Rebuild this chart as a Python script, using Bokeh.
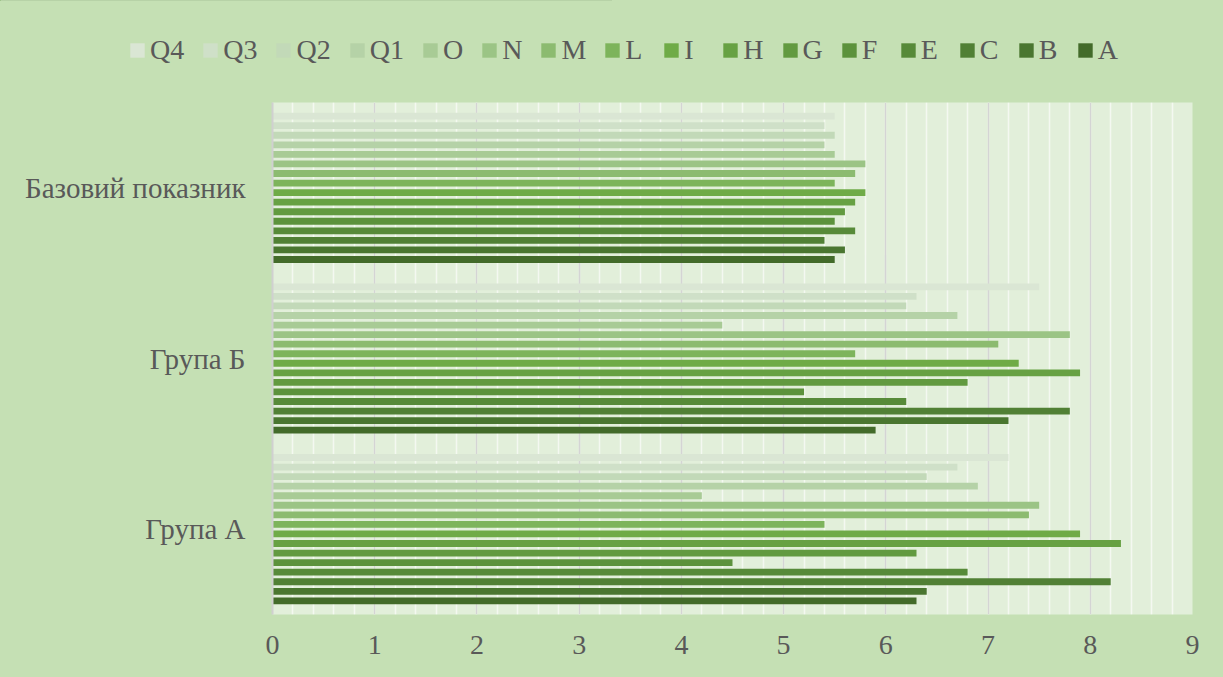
from bokeh.plotting import figure
from bokeh.layouts import column
from bokeh.models import Range1d, FactorRange, Legend, LegendItem, SingleIntervalTicker
from bokeh.transform import dodge
from bokeh.embed import file_html
from bokeh.resources import INLINE

# ---- data ----
groups = ["Група А", "Група Б", "Базовий показник"]
series = ["A", "B", "C", "E", "F", "G", "H", "I", "L", "M", "N", "O", "Q1", "Q2", "Q3", "Q4"]

A = [6.3, 5.9, 5.5]
B = [6.4, 7.2, 5.6]
C = [8.2, 7.8, 5.4]
E = [6.8, 6.2, 5.7]
F = [4.5, 5.2, 5.5]
G = [6.3, 6.8, 5.6]
H = [8.3, 7.9, 5.7]
I = [7.9, 7.3, 5.8]
L = [5.4, 5.7, 5.5]
M = [7.4, 7.1, 5.7]
N = [7.5, 7.8, 5.8]
O = [4.2, 4.4, 5.5]
Q1 = [6.9, 6.7, 5.4]
Q2 = [6.4, 6.2, 5.5]
Q3 = [6.7, 6.3, 5.4]
Q4 = [7.2, 7.5, 5.5]

colors = ["#436b2a", "#4a7630", "#518035", "#578a39", "#5c923c", "#629a40",
          "#67a143", "#6fab47", "#7db45b", "#8cbb70", "#9bc485", "#a8cb95",
          "#b5d2a7", "#c2d9b8", "#cfe0c8", "#dae6d4"]

data = {"group": groups, "A": A, "B": B, "C": C, "E": E, "F": F, "G": G, "H": H,
        "I": I, "L": L, "M": M, "N": N, "O": O, "Q1": Q1, "Q2": Q2, "Q3": Q3, "Q4": Q4}

FONT = "Liberation Serif"
TXT = "#595959"
OUTER = "#c5e0b4"
W = 1223

# ---- main chart ----
p = figure(width=W, height=575, output_backend="svg", toolbar_location=None,
           y_range=FactorRange(factors=groups, range_padding=0),
           x_range=Range1d(0, 9),
           min_border_left=272, min_border_right=31, min_border_top=0, min_border_bottom=63)
p.frame_align = False
p.background_fill_color = "#e2efda"
p.border_fill_color = OUTER
p.outline_line_color = None

slot = 0.056
bar_h = 0.04
renderers = []
for i, s in enumerate(series):
    off = (i - (len(series) - 1) / 2) * slot
    r = p.hbar(y=dodge("group", off, range=p.y_range), left=0, right=s, height=bar_h,
               source=data, fill_color=colors[i], line_color=None)
    renderers.append(r)

p.xaxis.ticker = SingleIntervalTicker(interval=1, num_minor_ticks=5)
p.xaxis.axis_line_color = None
p.xaxis.major_tick_line_color = None
p.xaxis.minor_tick_line_color = None
p.xaxis.major_label_standoff = 15
p.xaxis.major_label_text_font = FONT
p.xaxis.major_label_text_font_size = "28px"
p.xaxis.major_label_text_color = TXT

p.yaxis.axis_line_color = "#d0d0d0"
p.yaxis.axis_line_width = 2
p.yaxis.major_tick_line_color = None
p.yaxis.minor_tick_line_color = None
p.yaxis.major_label_standoff = 21
p.yaxis.major_label_text_font = FONT
p.yaxis.major_label_text_font_size = "29px"
p.yaxis.major_label_text_color = TXT

p.xgrid.grid_line_color = "#d4d4d4"
p.xgrid.grid_line_width = 1.5
p.xgrid.minor_grid_line_color = "#f4f8f1"
p.xgrid.minor_grid_line_width = 1.5
p.ygrid.grid_line_color = None

# ---- legend strip on top ----
lg = figure(width=W, height=102, output_backend="svg", toolbar_location=None,
            x_range=Range1d(0, 1), y_range=Range1d(0, 1),
            x_axis_type=None, y_axis_type=None,
            min_border_left=0, min_border_right=0, min_border_top=0, min_border_bottom=0)
lg.frame_align = False
lg.background_fill_color = OUTER
lg.border_fill_color = OUTER
lg.outline_line_color = None
lg.xgrid.grid_line_color = None
lg.ygrid.grid_line_color = None

# legend swatches reuse the series colours (bars kept outside the visible strip)
dummy = []
for i, s in enumerate(series):
    d = lg.hbar(y=[5.0], left=[0.0], right=[0.5], height=0.1,
                fill_color=colors[i], line_color=None)
    dummy.append(d)

items = [LegendItem(label=s, renderers=[r]) for s, r in zip(series, dummy)][::-1]
legend = Legend(items=items, orientation="horizontal", location=(128, 36),
                glyph_width=18, glyph_height=18, label_standoff=4, spacing=17,
                padding=0, margin=0, label_height=30,
                background_fill_alpha=0, border_line_color=None,
                label_text_font=FONT, label_text_font_size="28px",
                label_text_color=TXT, label_text_baseline="middle")
lg.add_layout(legend, "center")

layout = column(lg, p, spacing=0)
layout.styles = {"background-color": OUTER}
open("out.html", "w").write(file_html(layout, INLINE))
